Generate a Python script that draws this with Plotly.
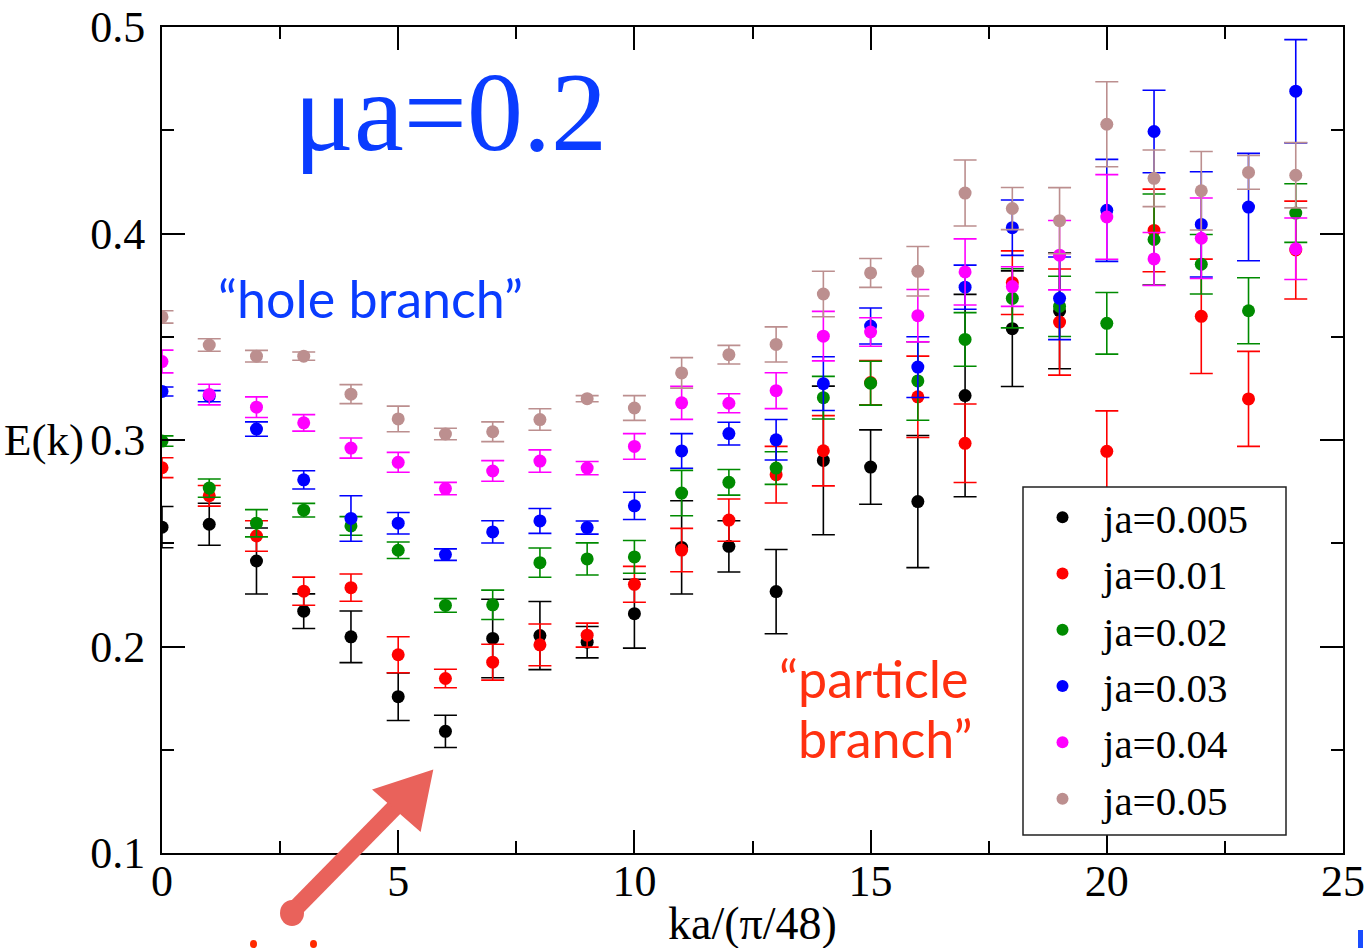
import plotly.graph_objects as go

# ---------------- data ----------------
k_vals = list(range(25))

labels = ["ja=0.005", "ja=0.01", "ja=0.02", "ja=0.03", "ja=0.04", "ja=0.05"]
colors = ["#000000", "#ff0000", "#008b00", "#0000ff", "#ff00ff", "#bc8f8f"]

E_005 = [0.2578, 0.2592, 0.2414, 0.2171, 0.2047, 0.1757, 0.1589, 0.2039, 0.2053, 0.2021,
         0.2159, 0.2480, 0.2485, 0.2266, 0.2901, 0.2869, 0.2702, 0.3215, 0.3539, 0.3625]
dE_005 = [0.010, 0.0102, 0.016, 0.0084, 0.0125, 0.0115, 0.0078, 0.019, 0.0165, 0.0076,
          0.0167, 0.0226, 0.0124, 0.0204, 0.036, 0.018, 0.032, 0.049, 0.028, 0.028]

E_01 = [0.2866, 0.2730, 0.2535, 0.2268, 0.2285, 0.1960, 0.1845, 0.1924, 0.2008, 0.2055,
        0.2301, 0.2467, 0.2612, 0.2832, 0.2948, 0.3278, 0.3209, 0.2984, 0.3762, 0.3571,
        0.2945, 0.4015, 0.3599, 0.3199, 0.3920]
dE_01 = [0.0048, 0.005, 0.0074, 0.0068, 0.0066, 0.0087, 0.0045, 0.0087, 0.0101, 0.0058,
         0.0087, 0.0105, 0.0102, 0.0137, 0.017, 0.0107, 0.0197, 0.019, 0.0154, 0.0257,
         0.0196, 0.020, 0.0277, 0.023, 0.0237]

E_02 = [0.2995, 0.2767, 0.2597, 0.2660, 0.2584, 0.2466, 0.2199, 0.2202, 0.2406, 0.2424,
        0.2434, 0.2743, 0.2795, 0.2864, 0.3205, 0.3275, 0.3286, 0.3487, 0.3686, 0.3647,
        0.3565, 0.3971, 0.3851, 0.3626, 0.4099]
dE_02 = [0.0025, 0.0044, 0.0066, 0.0033, 0.0045, 0.004, 0.0033, 0.0071, 0.0071, 0.0078,
         0.0079, 0.011, 0.0062, 0.0079, 0.0103, 0.0106, 0.019, 0.013, 0.0143, 0.0146,
         0.0149, 0.022, 0.0144, 0.016, 0.0142]

E_03 = [0.3235, 0.3212, 0.3053, 0.2807, 0.2620, 0.2597, 0.2445, 0.2555, 0.2608, 0.2576,
        0.2681, 0.2947, 0.3031, 0.3001, 0.3273, 0.3552, 0.3353, 0.3740, 0.4028, 0.3686,
        0.4112, 0.4494, 0.4044, 0.4128, 0.4689]
dE_03 = [0.0022, 0.0027, 0.0035, 0.0044, 0.011, 0.0052, 0.0028, 0.0054, 0.006, 0.0032,
         0.0066, 0.0084, 0.0055, 0.0098, 0.013, 0.0087, 0.0147, 0.0107, 0.0134, 0.020,
         0.0247, 0.020, 0.0255, 0.026, 0.025]

E_04 = [0.3380, 0.3220, 0.3159, 0.3083, 0.2961, 0.2892, 0.2765, 0.2850, 0.2898, 0.2864,
        0.2969, 0.3180, 0.3178, 0.3239, 0.3503, 0.3523, 0.3602, 0.3814, 0.3743, 0.3895,
        0.4080, 0.3877, 0.3977, None, 0.3926]
dE_04 = [0.0055, 0.005, 0.005, 0.004, 0.0049, 0.0048, 0.003, 0.005, 0.0054, 0.0032,
         0.0062, 0.008, 0.0046, 0.0087, 0.012, 0.0069, 0.0127, 0.016, 0.0096, 0.0168,
         0.0205, 0.0128, 0.0195, 0.0, 0.0149]

E_05 = [0.3596, 0.3460, 0.3406, 0.3406, 0.3222, 0.3102, 0.3029, 0.3040, 0.3099, 0.3200,
        0.3155, 0.3325, 0.3413, 0.3463, 0.3707, 0.3809, 0.3817, 0.4196, 0.4121, 0.4062,
        0.4529, 0.4267, 0.4207, 0.4296, 0.4282]
dE_05 = [0.003, 0.003, 0.0028, 0.002, 0.0046, 0.0062, 0.0028, 0.0048, 0.0052, 0.0015,
         0.006, 0.0074, 0.0045, 0.0085, 0.011, 0.007, 0.012, 0.016, 0.0102, 0.016,
         0.0206, 0.0137, 0.019, 0.0082, 0.0158]

series_E = [E_005, E_01, E_02, E_03, E_04, E_05]
series_dE = [dE_005, dE_01, dE_02, dE_03, dE_04, dE_05]

x_ticks = [0, 5, 10, 15, 20, 25]
y_ticks = [0.1, 0.2, 0.3, 0.4, 0.5]

# ---------------- figure ----------------
W, H = 1366, 948
L, R, T, B = 162, 23, 27, 95
PW, PH = W - L - R, H - T - B

def px(x):
    return (x - L) / PW

def py(y):
    return (H - B - y) / PH

SERIF = "Liberation Serif"
SANS = "Lato"

fig = go.Figure()
for lab, col, E, dE in zip(labels, colors, series_E, series_dE):
    fig.add_trace(go.Scatter(
        x=k_vals[:len(E)], y=E, mode="markers", name=lab,
        marker=dict(color=col, size=13, line=dict(width=0)),
        error_y=dict(type="data", array=dE[:len(E)], symmetric=True,
                     color=col, thickness=1.6, width=11.5),
    ))

axis_common = dict(
    showline=True, linecolor="black", linewidth=2, mirror="ticks",
    ticks="inside", ticklen=23, tickwidth=1.5, tickcolor="black",
    showgrid=False, zeroline=False, automargin=False,
    tickfont=dict(family=SERIF, size=44, color="black"),
)

fig.update_xaxes(
    range=[0, 25], tickvals=x_ticks, ticktext=[str(v) for v in x_ticks],
    minor=dict(ticks="inside", ticklen=12, tickwidth=1.5, dtick=2.5, tick0=0,
               tickcolor="black", showgrid=False),
    ticklabelstandoff=-12,
    **axis_common,
)
fig.update_yaxes(
    range=[0.1, 0.5], tickvals=y_ticks, ticktext=[f"{v:.1f}" for v in y_ticks],
    minor=dict(ticks="inside", ticklen=12, tickwidth=1.5, dtick=0.05, tick0=0.1,
               tickcolor="black", showgrid=False),
    ticklabelstandoff=6,
    **axis_common,
)

annotations = [
    dict(text="E(k)", x=px(44), y=py(440), xref="paper", yref="paper",
         showarrow=False, font=dict(family=SERIF, size=45, color="black"),
         xanchor="center", yanchor="middle"),
    dict(text="ka/(π/48)", x=px(752), y=py(924), xref="paper", yref="paper",
         showarrow=False, font=dict(family=SERIF, size=46, color="black"),
         xanchor="center", yanchor="middle"),
    dict(text="μa=0.2", x=px(292), y=py(112), xref="paper", yref="paper",
         showarrow=False, font=dict(family=SERIF, size=112, color="#0a3cff"),
         xanchor="left", yanchor="middle"),
    dict(text="“hole branch”", x=px(216), y=py(298), xref="paper", yref="paper",
         showarrow=False, font=dict(family=SANS, size=52, color="#0a3cff"),
         xanchor="left", yanchor="middle"),
    dict(text="“particle", x=px(874), y=py(678), xref="paper", yref="paper",
         showarrow=False, font=dict(family=SANS, size=52, color="#ff3010"),
         xanchor="center", yanchor="middle"),
    dict(text="branch”", x=px(885), y=py(738), xref="paper", yref="paper",
         showarrow=False, font=dict(family=SANS, size=52, color="#ff3010"),
         xanchor="center", yanchor="middle"),
]

ARROW = "#e9625b"
shapes = [
    # legend frame
    dict(type="rect", xref="paper", yref="paper", layer="above",
         x0=px(1023), y0=py(835), x1=px(1286), y1=py(487),
         fillcolor="white", line=dict(color="#222222", width=1.5)),
    # arrow shaft
    dict(type="line", xref="paper", yref="paper",
         x0=px(292), y0=py(912), x1=px(402), y1=py(800),
         line=dict(color=ARROW, width=17)),
    # rounded tail
    dict(type="circle", xref="paper", yref="paper",
         x0=px(280), y0=py(926), x1=px(304), y1=py(900),
         fillcolor=ARROW, line=dict(width=0)),
    # arrow head
    dict(type="path", xref="paper", yref="paper",
         path=f"M {px(374)},{py(790)} L {px(432)},{py(771)} L {px(420)},{py(830)} Z",
         fillcolor=ARROW, line=dict(color=ARROW, width=2)),
    # small cut-off marks at bottom
    dict(type="circle", xref="paper", yref="paper",
         x0=px(250), y0=py(948), x1=px(257), y1=py(940),
         fillcolor="#ff2a00", line=dict(width=0)),
    dict(type="circle", xref="paper", yref="paper",
         x0=px(310), y0=py(948), x1=px(317), y1=py(940),
         fillcolor="#ff2a00", line=dict(width=0)),
    dict(type="rect", xref="paper", yref="paper",
         x0=px(1358), y0=py(948), x1=px(1363), y1=py(930),
         fillcolor="#1a4dff", line=dict(width=0)),
]

fig.update_layout(
    width=W, height=H, autosize=False,
    margin=dict(l=L, r=R, t=T, b=B, pad=0, autoexpand=False),
    paper_bgcolor="white", plot_bgcolor="white",
    showlegend=True,
    legend=dict(
        x=px(1022), y=py(484), xanchor="left", yanchor="top",
        xref="paper", yref="paper",
        bgcolor="rgba(0,0,0,0)", borderwidth=0,
        font=dict(family=SERIF, size=41, color="black"),
        itemsizing="constant", tracegroupgap=0, itemwidth=71,
    ),
    annotations=annotations,
    shapes=shapes,
)

fig.write_html("out.html")
